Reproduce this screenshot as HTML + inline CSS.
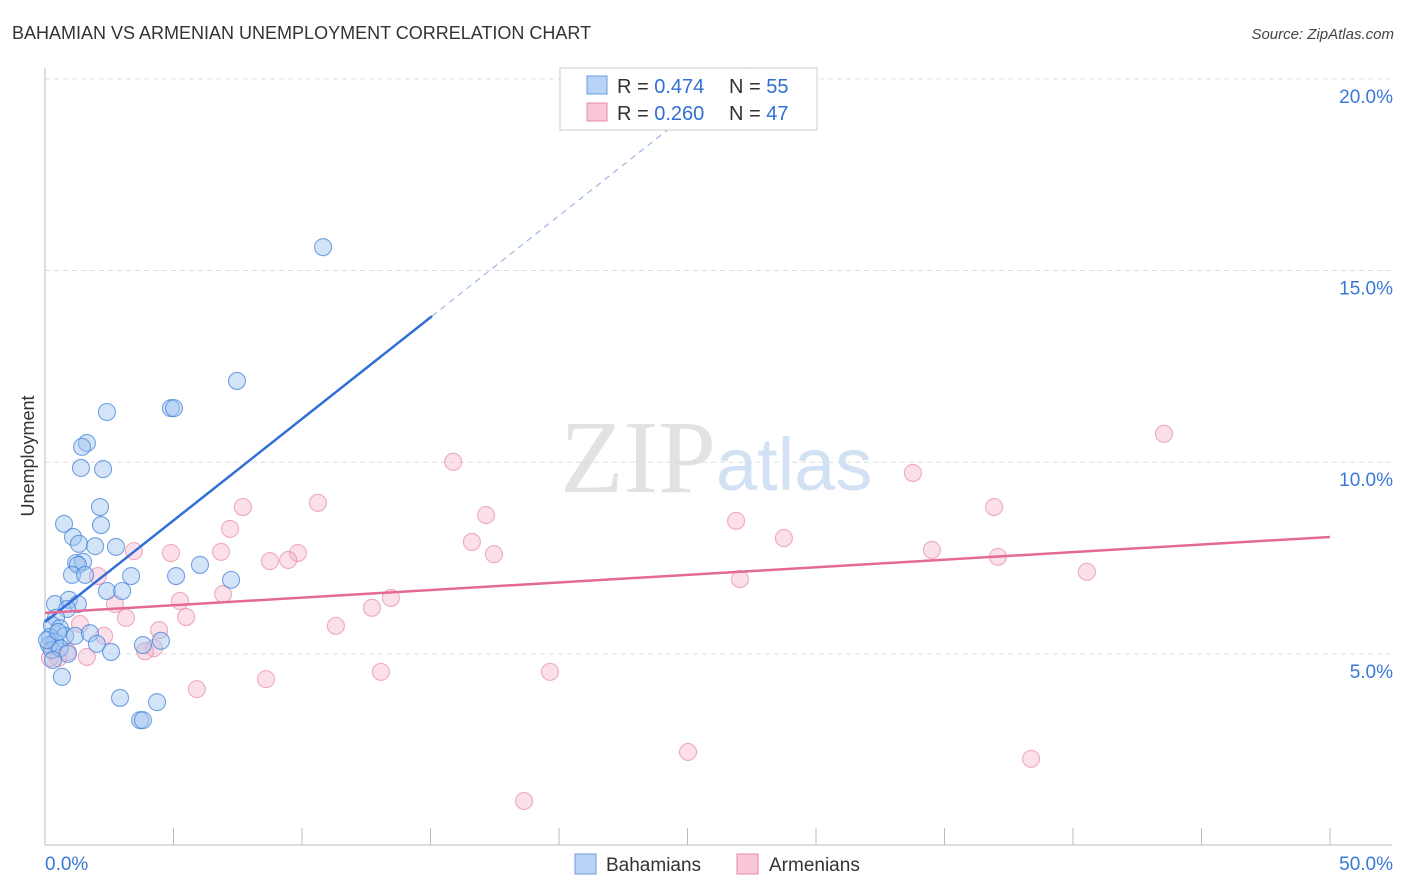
<!DOCTYPE html>
<html><head><meta charset="utf-8"><style>
body{margin:0;background:#fff;font-family:"Liberation Sans",sans-serif;}
#wrap{position:relative;width:1406px;height:892px;overflow:hidden;}
</style></head><body>
<div id="wrap">
<svg id="svg" width="1406" height="892" xmlns="http://www.w3.org/2000/svg">
<text x="12" y="39" font-size="18" fill="#333">BAHAMIAN VS ARMENIAN UNEMPLOYMENT CORRELATION CHART</text>
<text x="1394" y="39" font-size="15" fill="#444" font-style="italic" text-anchor="end">Source: ZipAtlas.com</text>
<text x="34" y="456" font-size="18" fill="#333" text-anchor="middle" transform="rotate(-90 34 456)">Unemployment</text>
<text x="716" y="492" font-size="104" fill="#e2e2e2" text-anchor="end" font-family="Liberation Serif,serif">ZIP</text>
<text x="716" y="490" font-size="74" fill="#d2e1f4">atlas</text>
<g id="grid"></g><g id="marks"></g>
<rect x="560" y="68" width="257" height="62" fill="#fff" stroke="#ccc"/>
<rect x="587" y="76" width="20" height="18" fill="#b8d3f5" stroke="#6a9ee0"/>
<rect x="587" y="103" width="20" height="18" fill="#f9c8d8" stroke="#e88aa8"/>
<text x="617" y="93" font-size="20" fill="#333">R = <tspan fill="#2f6fd6">0.474</tspan></text>
<text x="729" y="93" font-size="20" fill="#333">N = <tspan fill="#2f6fd6">55</tspan></text>
<text x="617" y="120" font-size="20" fill="#333">R = <tspan fill="#2f6fd6">0.260</tspan></text>
<text x="729" y="120" font-size="20" fill="#333">N = <tspan fill="#2f6fd6">47</tspan></text>
<rect x="575" y="854" width="21" height="20" fill="#b8d3f5" stroke="#6a9ee0"/>
<text x="606" y="871" font-size="19" fill="#333">Bahamians</text>
<rect x="737" y="854" width="21" height="20" fill="#f9c8d8" stroke="#e88aa8"/>
<text x="769" y="871" font-size="19" fill="#333">Armenians</text>
</svg></div>
<script>
const bahX=[10.82,7.47,2.41,4.90,5.02,1.63,1.44,1.40,2.26,2.14,0.74,2.18,1.09,1.32,1.95,2.76,1.21,1.48,1.28,1.05,1.56,3.35,5.10,6.03,7.24,2.41,3.00,0.39,0.93,1.28,0.86,0.43,0.27,0.58,0.78,1.17,1.75,0.19,0.39,2.02,2.57,3.81,4.51,0.16,0.27,0.58,0.89,0.31,0.66,2.92,4.36,3.70,3.81,0.08,0.51];
const bahY=[15.61,12.12,11.31,11.41,11.41,10.50,10.40,9.85,9.82,8.83,8.39,8.36,8.05,7.87,7.81,7.79,7.37,7.40,7.32,7.06,7.06,7.03,7.03,7.32,6.93,6.64,6.64,6.30,6.41,6.30,6.17,5.94,5.75,5.67,5.47,5.47,5.54,5.44,5.31,5.26,5.05,5.23,5.34,5.23,5.10,5.15,5.00,4.84,4.40,3.85,3.74,3.27,3.27,5.36,5.57];
const armX=[18.64,25.02,38.37,19.65,13.07,8.60,5.91,43.54,15.88,33.77,10.62,7.70,36.93,17.16,26.89,7.20,16.61,28.75,34.51,3.46,4.90,6.85,9.84,8.75,9.46,17.47,37.08,40.54,27.04,2.06,6.93,5.25,13.46,2.72,12.72,5.49,3.15,1.36,11.32,4.44,2.30,4.24,3.89,1.63,0.89,0.51,0.19];
const armY=[1.16,2.44,2.26,4.53,4.53,4.34,4.08,10.74,10.01,9.72,8.94,8.83,8.83,8.62,8.47,8.26,7.92,8.02,7.71,7.68,7.63,7.66,7.63,7.42,7.45,7.60,7.53,7.14,6.95,7.03,6.56,6.38,6.46,6.30,6.20,5.96,5.94,5.78,5.73,5.62,5.47,5.15,5.07,4.92,5.05,4.89,4.89];
const yTicks=[5,10,15,20];
const yTickLabels=["5.0%","10.0%","15.0%","20.0%"];
const bahTrend=[5.83,0.53];
const armTrend=[6.07,0.0396];
const X=v=>45+v*25.7, Y=v=>845.5-v*38.33;
const NS="http://www.w3.org/2000/svg";
function mk(tag,attrs,parent){const e=document.createElementNS(NS,tag);for(const k in attrs)e.setAttribute(k,attrs[k]);parent.appendChild(e);return e;}
const grid=document.getElementById('grid'),marks=document.getElementById('marks');
yTicks.forEach((t,i)=>{
 const l=mk('line',{x1:45,x2:1392,y1:Y(t),y2:Y(t),stroke:'#ddd','stroke-dasharray':'5,4'},grid);
 
 
 const tx=mk('text',{x:1393,y:Y(t)+24,'font-size':19,fill:'#3a78d8','text-anchor':'end'},grid);
 tx.textContent=yTickLabels[i];
 
 
});
const ax=mk('line',{x1:45,x2:45,y1:68,y2:845,stroke:'#bbb'},grid);


const bx=mk('line',{x1:45,x2:1392,y1:845,y2:845,stroke:'#bbb'},grid);


for(let k=0;k<=10;k++){const t=mk('line',{x1:X(k*5),x2:X(k*5),y1:828,y2:845,stroke:'#bbb'},grid);
 
 }
[[0,'0.0%','start'],[50,'50.0%','end']].forEach(a=>{const t=mk('text',{x:a[0]?1393:45,y:870,'font-size':19,fill:'#3a78d8','text-anchor':a[2]},grid);t.textContent=a[1];
 
 });
function dots(xs,ys,fill,stroke,name){xs.forEach((x,i)=>{const c=mk('circle',{cx:X(x),cy:Y(ys[i]),r:8.5,fill:fill,stroke:stroke,'stroke-width':1.1},marks);
 
 });}
dots(armX,armY,'rgba(246,180,202,0.42)','rgba(230,130,165,0.65)','armenian-point');
dots(bahX,bahY,'rgba(160,196,240,0.45)','rgba(60,125,215,0.7)','bahamian-point');
const bEnd=15.06, topV=20.3, bDash=(topV-bahTrend[0])/bahTrend[1];
const l1=mk('line',{x1:X(0),y1:Y(bahTrend[0]),x2:X(bEnd),y2:Y(bahTrend[0]+bahTrend[1]*bEnd),stroke:'#2f6fd6','stroke-width':2.5},marks);


const l2=mk('line',{x1:X(bEnd),y1:Y(bahTrend[0]+bahTrend[1]*bEnd),x2:X(bDash),y2:Y(topV),stroke:'#9bb8e0','stroke-width':1.2,'stroke-dasharray':'6,5'},marks);


const l3=mk('line',{x1:X(0),y1:Y(armTrend[0]),x2:X(50),y2:Y(armTrend[0]+armTrend[1]*50),stroke:'#e46a94','stroke-width':2.5},marks);


</script>
</body></html>
